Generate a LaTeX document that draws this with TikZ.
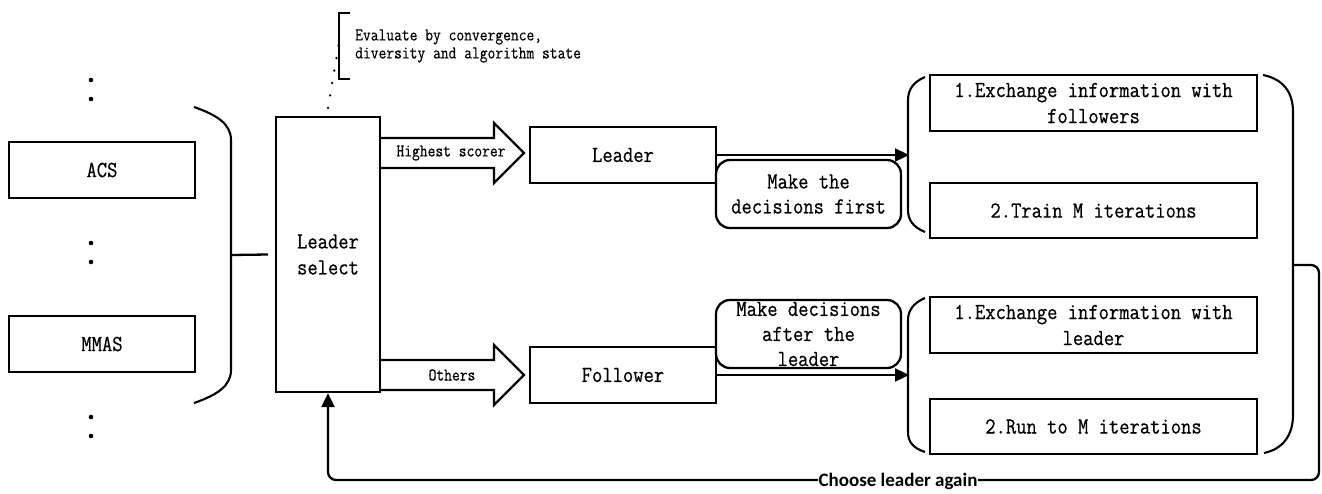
\documentclass[tikz,border=0pt]{standalone}
\usepackage{fontspec}
\usetikzlibrary{arrows.meta}
\newfontfamily\monof[FakeStretch=0.87,FakeBold=0.6]{Latin Modern Mono}
\newfontfamily\monos[FakeStretch=0.84,FakeBold=0.4]{Latin Modern Mono}
\newfontfamily\carlito{Carlito}
\tikzset{
  ln/.style={line width=2.3pt},
  box/.style={draw, ln, inner sep=0pt, align=center, font=\monof\fontsize{23}{26}\selectfont},
  rbox/.style={box, rounded corners=14pt, font=\monof\fontsize{23}{25}\selectfont},
  small/.style={font=\monos\fontsize{18}{18}\selectfont, inner sep=0pt},
  arr/.style={ln, -{Triangle[length=14pt,width=13pt]}},
  fatarrow/.style={ln, line join=miter},
  paren/.style={line width=2.1pt},
  dotpt/.style={fill=black},
}
\begin{document}
\begin{tikzpicture}[x=1pt,y=-1pt]
\useasboundingbox (0,0) rectangle (1322,493);

% left list
\node[box, minimum width=186, minimum height=56] (acs) at (102,170) {ACS};
\node[box, minimum width=186, minimum height=56] (mmas) at (102,344) {MMAS};
\foreach \yy in {80,99,243,262,417,436} \fill[dotpt] (91,\yy) circle (2.3);

% left brace
\draw[paren] (194,107) .. controls (217,115) and (231,124) .. (231,140) -- (231,370) .. controls (231,386) and (217,395) .. (194,403);
\coordinate (bj) at (231,255);

% leader select
\node[box, minimum width=104, minimum height=275] (sel) at (328,254.5) {Leader\\select};
\draw[ln] (bj) -- ([xshift=-7pt]sel.west);

% evaluation note
\draw[line width=2.6pt, dash pattern=on 0.01pt off 12.6pt, line cap=round] ([yshift=8pt]sel.north) -- (339.5,40);
\draw[line width=1.8pt] (350,13) -- (339,13) -- (339,79) -- (350,79);
\node[small, align=left, anchor=west] (eval) at (355,46) {Evaluate by convergence,\\diversity and algorithm state};

% fat arrows
\draw[fatarrow] (380,138) -- (494,138) -- (494,123) -- (524,153) -- (494,183) -- (494,168) -- (380,168);
\node[small] (hs) at (451,153) {Highest scorer};
\draw[fatarrow] (380,360) -- (494,360) -- (494,345) -- (524,375) -- (494,405) -- (494,390) -- (380,390);
\node[small] (oth) at (452,375) {Others};

% leader / follower
\node[box, minimum width=186, minimum height=56] (leader) at (623,155) {Leader};
\node[box, minimum width=186, minimum height=56] (follower) at (623,375) {Follower};
\node[rbox, minimum width=185, minimum height=68] (mk1) at (808.5,194) {Make the\\decisions first};
\node[rbox, minimum width=185, minimum height=68] (mk2) at (808.5,334) {Make decisions\\after the\\leader};

% right groups
\node[box, minimum width=327, minimum height=56] (ex1) at (1093.5,103) {1.Exchange information with\\followers};
\node[box, minimum width=327, minimum height=55] (tr) at (1093.5,210.5) {2.Train M iterations};
\node[box, minimum width=327, minimum height=56] (ex2) at (1093.5,325) {1.Exchange information with\\leader};
\node[box, minimum width=327, minimum height=55] (run) at (1093.5,426.5) {2.Run to M iterations};

\draw[paren] (925,77) .. controls (913,82) and (908,90) .. (908,100) -- (908,210) .. controls (908,220) and (913,227) .. (925,232);
\draw[paren] (925,298) .. controls (913,303) and (908,311) .. (908,320) -- (908,432) .. controls (908,442) and (913,448) .. (925,452);
\draw[paren] (1263,75) .. controls (1283,79) and (1293,92) .. (1293,112) -- (1293,415) .. controls (1293,435) and (1283,449) .. (1264,453);
\coordinate (lp1) at (909,155);
\coordinate (lp2) at (909,375);
\coordinate (rj) at (1293,265);

\draw[arr] (leader.east) -- (lp1);
\draw[arr] (follower.east) -- (lp2);

% return loop
\draw[arr, rounded corners=8pt] (rj) -- (1319,265) -- (1319,480) -- (sel.south |- 0,480) -- (sel.south);
\node[font=\carlito\bfseries\fontsize{19}{20}\selectfont, fill=white, inner sep=1pt] (again) at (898,481) {Choose leader again};
\end{tikzpicture}
\end{document}
